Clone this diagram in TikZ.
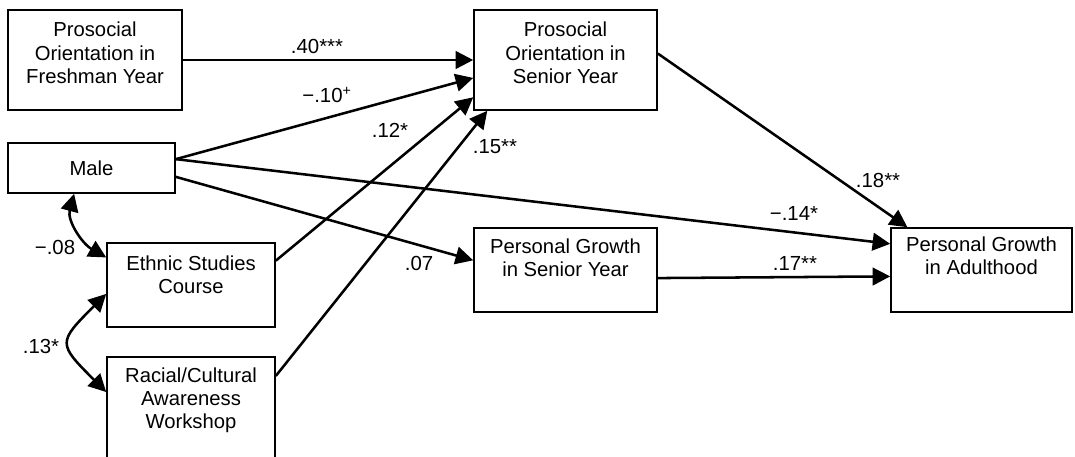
\documentclass[tikz,border=0pt]{standalone}
\usepackage{fontspec}
\setmainfont{Liberation Sans}
\usetikzlibrary{arrows.meta}
\tikzset{
  var/.style={draw=black,line width=1.1pt,align=center,inner sep=2pt,
              font=\fontsize{14.4}{16.4}\selectfont},
  effect/.style={-{Triangle[length=4.4mm,width=4.4mm]},line width=1.8pt},
  covar/.style={{Triangle[length=4.4mm,width=4.4mm]}-{Triangle[length=4.4mm,width=4.4mm]},
                line width=1.8pt},
  coef/.style={font=\fontsize{14.5}{16}\selectfont,inner sep=1pt},
}

\begin{document}
\begin{tikzpicture}[x=0.025cm,y=0.025cm]
  \path[use as bounding box] (0,0) rectangle (1075,456);

  % exogenous variables
  \node[var,minimum width=4.35cm,minimum height=2.5cm] (fresh) at (95,396)
    {Prosocial\\Orientation in\\Freshman Year\\[-6pt]\mbox{}};
  \node[var,minimum width=4.175cm,minimum height=1.25cm] (male) at (91.5,288) {Male};
  \node[var,minimum width=4.2cm,minimum height=2.1cm] (ethnic) at (191,171)
    {Ethnic Studies\\Course\\[-2pt]\mbox{}};
  \node[var,minimum width=4.2cm,minimum height=2.575cm] (racial) at (191,47.5)
    {Racial/Cultural\\Awareness\\Workshop\\[-2pt]\mbox{}};

  % outcomes
  \node[var,minimum width=4.575cm,minimum height=2.5cm] (senpro) at (565.5,396)
    {Prosocial\\Orientation in\\Senior Year\\[-6pt]\mbox{}};
  \node[var,minimum width=4.575cm,minimum height=2.1cm] (sengrow) at (565.5,186)
    {Personal Growth\\in Senior Year\\[1pt]\mbox{}};
  \node[var,minimum width=4.525cm,minimum height=2.1cm] (adult) at (981.5,186)
    {Personal Growth\\in Adulthood\\[4pt]\mbox{}};

  \draw[effect] (fresh) -- (senpro);
  \draw[effect] (male.6) -- (senpro.191);
  \draw[effect] (ethnic.16.6) -- (senpro.202);
  \draw[effect] (racial.21.7) -- (senpro.213.5);
  \draw[effect] (male.6) -- (adult.164);
  \draw[effect] (male.354) -- (sengrow.174);
  \draw[effect] (senpro.4.4) -- (adult.150.6);
  \draw[effect] (sengrow.355.6) -- (adult.184.4);
  \draw[covar] (male.236.6) to[out=255,in=150] (ethnic.162.2);
  \draw[covar] (ethnic.186.8) to[out=225,in=135,looseness=1.8] (racial.169.5);

  % coefficients
  \node[coef] (b40) at (317,410) {.40***};
  \node[coef] (b10) at (327,361) {−.10\textsuperscript{+}};
  \node[coef] (b12) at (390,326) {.12*};
  \node[coef] (b15) at (495,309) {.15**};
  \node[coef] (b07) at (419,193) {.07};
  \node[coef] (b08) at (55,209) {−.08};
  \node[coef] (b13) at (41,110) {.13*};
  \node[coef] (b18) at (878,276) {.18**};
  \node[coef] (b14) at (794,243) {−.14*};
  \node[coef] (b17) at (795,193) {.17**};
\end{tikzpicture}
\end{document}
